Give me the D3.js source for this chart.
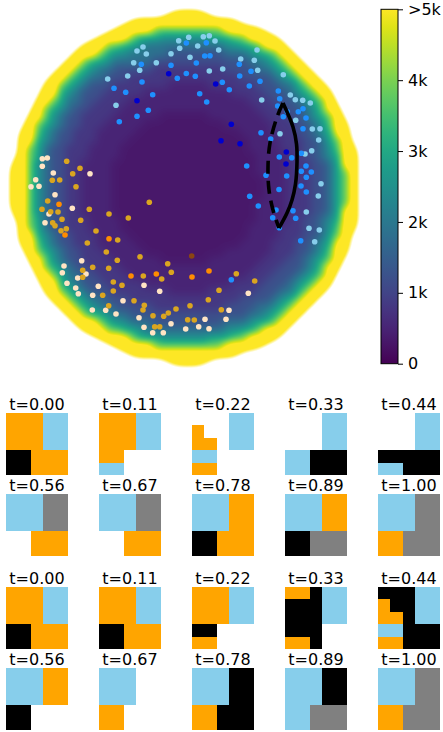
<!DOCTYPE html>
<html>
<head>
<meta charset="utf-8">
<script src="https://cdn.jsdelivr.net/npm/d3@7"></script>
<style>
  body { margin: 0; background: white; }
  text { font-family: "DejaVu Sans", sans-serif; }
</style>
</head>
<body>
<div id="my_dataviz"></div>
<script>
// density map, one character per grid cell (index into levelValues), "." = no data
var densityRows = [
"....................99999....................",
"...............99999999999999................",
".............9999988888888899999.............",
"...........99998777666666777889999...........",
".........99988776555555555566778999..........",
"........9998766555554444444555677899.........",
".......998776555554444444444445567899........",
"......99876554444433333333344445567899.......",
".....9987655444333333333333334444567899......",
"....998765444333333322222333333444557899.....",
"....9976544433333222222222223333444567899....",
"...99875544333322222222222222233344456789....",
"...987654433332222222222222222233344456899...",
"..9986544333322222211111122222223334456789...",
"..98765443332222211111111112222223334456899..",
".998654433322222111111111111122223334456799..",
".997654433322221111111111111112222333445789..",
".9875443332222111111111111111122223334456899.",
".9875443332222111111111111111112222334456799.",
"99865443322221111111111111111112222333445799.",
"99865443322221111111111111111112222333445789.",
"99865443322221111111111111111111222333445789.",
"99865443322221111111111111111111222333445789.",
"99865443322221111111111111111111222333445789.",
"99865443322221111111111111111112222333445789.",
"99865443322221111111111111111112222333445799.",
".9875443332222111111111111111112222334456799.",
".9875443332222111111111111111122223334456899.",
".997654433322221111111111111112222333445789..",
".998654433322222111111111111122223334456799..",
"..98765443332222211111111112222223334456899..",
"..9986544333322222211111122222223334456789...",
"...987654433332222222222222222233344456899...",
"...99875544333322222222222222233344456789....",
"....9976544433333222222222223333444567899....",
"....998765444333333322222333333444557899.....",
".....9987655444333333333333334444567899......",
"......99876554444433333333344445567899.......",
".......998776554444444444444445567899........",
"........9998766555444444444555677899.........",
".........99988776555555555566778999..........",
"...........99998777666666777889999...........",
".............9999988888888899999.............",
"...............99999999999999................",
"....................99999...................."
];
var levelValues = [0, 0.32, 0.5, 0.8, 1.25, 1.9, 2.6, 3.2, 4.0, 6.0];

var colorTicks  = [0, 1, 2, 3, 4, 5];
var colorLabels = ["0", "1k", "2k", "3k", "4k", ">5k"];

// points, in disc units
var skyDots = [[96.7,67],[116.7,64],[105,93.3],[122.7,50.7],[128.7,58.3],[126,39],[132,35],[135.3,42],[145.3,50.7],[160,41.7],[167.7,28.7],[168.7,36.3],[177.7,25.3],[179,45.3],[192.3,24.7],[198.3,23.7],[204,29],[186.7,34],[207.7,38],[229.7,47],[246,38],[243.3,48.3],[198.3,59],[211.7,57],[246.7,58.3],[272.3,62.7],[279.3,83],[284.3,87.7],[291.7,88.3],[299.3,91],[250.7,88],[284.7,108.3],[301.3,117],[309,116.7],[269,121.7],[307.7,128],[300.7,138.7],[294,142],[310,171.7],[307.3,184],[295.3,200],[298,216.3],[308.3,218],[303.7,229.7]];
var blueDots = [[130.3,52.3],[103,76.3],[114.7,80.3],[131,70],[141.7,82.7],[137.3,98.3],[126,104.3],[108.3,109.7],[160,53.3],[166.3,66.3],[175.3,61.5],[175.3,31],[195.3,30.7],[193.7,44],[199,43.7],[185.3,51],[228.3,52.3],[240,59.3],[184.3,64.3],[228.7,64],[211.3,70.3],[249,69.3],[238.3,74],[218.3,77.7],[267.3,79],[268.7,86.7],[188.7,81.7],[195.7,90],[266.7,94],[276.3,99.7],[287.3,99.7],[292,96.7],[272.3,104.7],[295,106],[292,116.7],[250,120.7],[259.7,127],[268.3,145],[280.7,145.7],[290.3,141.3],[295,154],[290.3,159.3],[300.3,160],[295.3,165.3],[275.7,164],[235.7,154],[255,163.3],[290,174],[268,177.5],[238.7,184.3],[247.3,194],[295.3,180],[282,198.7],[284.7,206.3],[265,198],[261.7,205.7],[268.3,215.7],[289.7,228.7],[220.3,267.7]];
var darkDots = [[126,88.7],[157.7,61.7],[204.7,72],[220.3,112.3],[210,128.7],[229,131.7],[275.3,140],[275,152]];
var bisqueDots = [[31.3,146.7],[36.3,146],[31.3,154.3],[42.3,161],[79,161.7],[24.7,167.7],[20,174.7],[28,174.3],[44,182.7],[61.3,196.3],[38,202],[34,210.7],[70.7,248.7],[53,254],[51.3,260.7],[75,262],[66.7,266],[56,271.3],[64.7,276],[67.3,281.7],[87.3,274.3],[81.7,283.3],[81.3,298],[94.7,298.3],[105,302],[112,288.7],[133,273.3],[148.7,279.3],[128,305.7],[133,315.3],[141.7,320.7],[152.3,320.7],[160,311.7],[174.7,317],[237.3,281.3],[218,298.3],[215,307.3],[194,307.3],[187.7,314.7],[198,316.7]];
var goldDots = [[55.7,149.3],[69,156.3],[61.7,161.7],[41.3,168.3],[48.7,168],[65,174.7],[36.7,189],[31,197.3],[39.7,199.7],[47,200],[78.3,197.3],[98,202],[138.3,190.3],[51,207.3],[69.7,208.3],[117.3,206],[41.7,210.7],[44,213.7],[55.3,216.7],[50,218.7],[85,219],[76.3,231],[106.7,228],[95.3,240],[129,244.7],[106.3,248.3],[81.7,255.3],[71.7,258.3],[97.7,256.3],[71.7,265.3],[156.7,251.7],[160.3,260.3],[132.3,264],[150.7,267],[102.3,270],[111,273.3],[102.3,279],[91.7,283.3],[123,288.7],[133.3,293.3],[132,298],[97.7,293.7],[165,297],[179,293.7],[157.3,301],[152.7,304.3],[142,303.7],[176.7,307.7],[143.7,314.7],[148.7,314.7],[225.3,261.7],[243.7,269],[208,278.3],[197.3,287.7],[210.3,297.7],[183.3,308]];
var orangeDots = [[48,192.3],[54,223],[98,226.7],[120,264],[145.3,262],[181,265],[198,259]];
var brownDots = [[180.7,244]];

var solidCurve  = [[272,91],[282,115],[285.5,132],[286,150],[284.5,172],[281,188],[276,201],[268,216]];
var dashedCurve = [[272,91],[266,105],[259,131],[257,155],[258,178],[262,198],[268,216]];

// small 5x5 frames: O orange, B blue, K black, G gray, W white
var frameTimes = ["0.00","0.11","0.22","0.33","0.44","0.56","0.67","0.78","0.89","1.00"];
var framesTop = [
  ["OOOBB","OOOBB","OOOBB","KKOOO","KKOOO"],
  ["OOOBB","OOOBB","OOOBB","OOWWW","BBWWW"],
  ["WWWBB","OWWBB","OOWBB","BBWWW","OOWWW"],
  ["WWWBB","WWWBB","WWWBB","BBKKK","BBKKK"],
  ["WWWBB","WWWBB","WWWBB","KKKKK","BBKKK"],
  ["BBBGG","BBBGG","BBBGG","WWOOO","WWOOO"],
  ["BBBGG","BBBGG","BBBGG","WWOOO","WWOOO"],
  ["BBBOO","BBBOO","BBBOO","KKOOO","KKOOO"],
  ["BBBOO","BBBOO","BBBOO","KKGGG","KKGGG"],
  ["BBBGG","BBBGG","BBBGG","OOGGG","OOGGG"]
];
var framesBottom = [
  ["OOOBB","OOOBB","OOOBB","KKOOO","KKOOO"],
  ["OOOBB","OOOBB","OOOBB","KKOOO","KKOOO"],
  ["OOOBB","OOOBB","OOOBB","KKWWW","OOWWW"],
  ["OOKBB","KKKBB","KKKBB","KKKWW","OOKWW"],
  ["KKKBB","OKKBB","OOKBB","BBKKK","OOKKK"],
  ["BBBOO","BBBOO","BBBOO","KKWWW","KKWWW"],
  ["BBBWW","BBBWW","BBBWW","OOWWW","OOWWW"],
  ["BBBKK","BBBKK","BBBKK","OOKKK","OOKKK"],
  ["BBBKK","BBBKK","BBBKK","BBGGG","BBGGG"],
  ["BBBGG","BBBGG","BBBGG","OOGGG","OOGGG"]
];
var cellColors = {O: "#ffa500", B: "#87ceeb", K: "#000000", G: "#808080", W: "#ffffff"};

var svg = d3.select("#my_dataviz")
  .append("svg")
    .attr("width", 443)
    .attr("height", 732)
    .style("display", "block");

var color = d3.scaleSequential(d3.interpolateViridis).domain([0, 5]).clamp(true);

// heat map: upsample the cells, blur, then colour
// pad is empty cells round the grid so the blur does not pile up on the border
var cell = 8, pad = 3;
var nCols = densityRows[0].length, nRows = densityRows.length;
var rw = (nCols + 2 * pad) * cell, rh = (nRows + 2 * pad) * cell;
var vals = new Float32Array(rw * rh), cover = new Float32Array(rw * rh);
for (var py = 0; py < rh; py++) {
  var row = densityRows[Math.floor(py / cell) - pad] || "";
  for (var px = 0; px < rw; px++) {
    var c = row[Math.floor(px / cell) - pad];
    var has = c !== undefined && c !== ".";
    vals[py * rw + px] = has ? levelValues[+c] : 6.0;
    cover[py * rw + px] = has ? 1 : 0;
  }
}
d3.blur2({data: vals, width: rw, height: rh}, 4);
d3.blur2({data: cover, width: rw, height: rh}, 7);

var edge = d3.scaleLinear().domain([0.44, 0.6]).range([0, 255]).clamp(true);
var canvas = document.createElement("canvas");
canvas.width = rw;
canvas.height = rh;
var ctx = canvas.getContext("2d");
var img = ctx.createImageData(rw, rh);
for (var k = 0; k < rw * rh; k++) {
  var rgb = d3.rgb(color(vals[k]));
  img.data[4 * k] = rgb.r;
  img.data[4 * k + 1] = rgb.g;
  img.data[4 * k + 2] = rgb.b;
  img.data[4 * k + 3] = edge(cover[k]);
}
ctx.putImageData(img, 0, 0);

var drawnCell = 7.95;
svg.append("image")
  .attr("x", 9 - pad * drawnCell)
  .attr("y", 9 - pad * drawnCell)
  .attr("width", (nCols + 2 * pad) * drawnCell)
  .attr("height", (nRows + 2 * pad) * drawnCell)
  .attr("href", canvas.toDataURL());

// disc units to page
var x = d3.scaleLinear().domain([0, 350]).range([11, 361]);
var y = d3.scaleLinear().domain([0, 350]).range([12, 362]);

function addDots(dots, fill) {
  svg.append("g").selectAll("circle")
    .data(dots)
    .enter()
    .append("circle")
      .attr("cx", function(d) { return x(d[0]); })
      .attr("cy", function(d) { return y(d[1]); })
      .attr("r", 2.8)
      .attr("fill", fill);
}
addDots(skyDots, "#87ceeb");
addDots(blueDots, "#1e90ff");
addDots(darkDots, "#0000cd");
addDots(bisqueDots, "#ffe4c4");
addDots(goldDots, "#daa520");
addDots(orangeDots, "#ff8c00");
addDots(brownDots, "#8b4513");

var line = d3.line()
  .x(function(d) { return x(d[0]); })
  .y(function(d) { return y(d[1]); })
  .curve(d3.curveCatmullRom);

svg.append("path")
  .attr("d", line(solidCurve))
  .attr("fill", "none")
  .attr("stroke", "black")
  .attr("stroke-width", 3.6);
svg.append("path")
  .attr("d", line(dashedCurve))
  .attr("fill", "none")
  .attr("stroke", "black")
  .attr("stroke-width", 3.6)
  .attr("stroke-dasharray", "13,7");

// colour bar
var barX = 381, barW = 17;
var barY = d3.scaleLinear().domain([0, 5]).range([363.7, 9.3]);

var grad = svg.append("defs").append("linearGradient")
  .attr("id", "viridisBar")
  .attr("x1", 0).attr("y1", 1)
  .attr("x2", 0).attr("y2", 0);
grad.selectAll("stop")
  .data(d3.range(0, 1.001, 0.05))
  .enter()
  .append("stop")
    .attr("offset", function(d) { return d; })
    .attr("stop-color", function(d) { return color(d * 5); });

svg.append("rect")
  .attr("x", barX)
  .attr("y", barY(5))
  .attr("width", barW)
  .attr("height", barY(0) - barY(5))
  .attr("fill", "url(#viridisBar)")
  .attr("stroke", "black")
  .attr("stroke-width", 1);

var barAxis = svg.append("g")
  .attr("transform", "translate(" + (barX + barW) + ",0)")
  .call(d3.axisRight(barY)
    .tickValues(colorTicks)
    .tickFormat(function(d, i) { return colorLabels[i]; })
    .tickSize(5)
    .tickPadding(5));
barAxis.select(".domain").remove();
barAxis.selectAll("text").style("font-size", "16px").attr("fill", "black");

// frame grids
var frameTops = [413, 494, 587, 668];
var frameLefts = [6, 99, 192, 285, 378];
var cellBand = d3.scaleBand().domain(d3.range(5)).range([0, 62]);

function drawFrame(frame, label, left, top) {
  var g = svg.append("g").attr("transform", "translate(" + left + "," + top + ")");
  var cells = [];
  frame.forEach(function(r, j) {
    r.split("").forEach(function(c, i) { cells.push({i: i, j: j, c: c}); });
  });
  g.selectAll("rect")
    .data(cells)
    .enter()
    .append("rect")
      .attr("x", function(d) { return cellBand(d.i); })
      .attr("y", function(d) { return cellBand(d.j); })
      .attr("width", cellBand.bandwidth())
      .attr("height", cellBand.bandwidth())
      .attr("fill", function(d) { return cellColors[d.c]; })
      .attr("shape-rendering", "crispEdges");
  g.append("text")
    .attr("x", 31)
    .attr("y", -3)
    .attr("text-anchor", "middle")
    .style("font-size", "16px")
    .text("t=" + label);
}

frameTimes.forEach(function(t, n) {
  var col = n % 5, part = Math.floor(n / 5);
  drawFrame(framesTop[n], t, frameLefts[col], frameTops[part]);
  drawFrame(framesBottom[n], t, frameLefts[col], frameTops[part + 2]);
});
</script>
</body>
</html>
